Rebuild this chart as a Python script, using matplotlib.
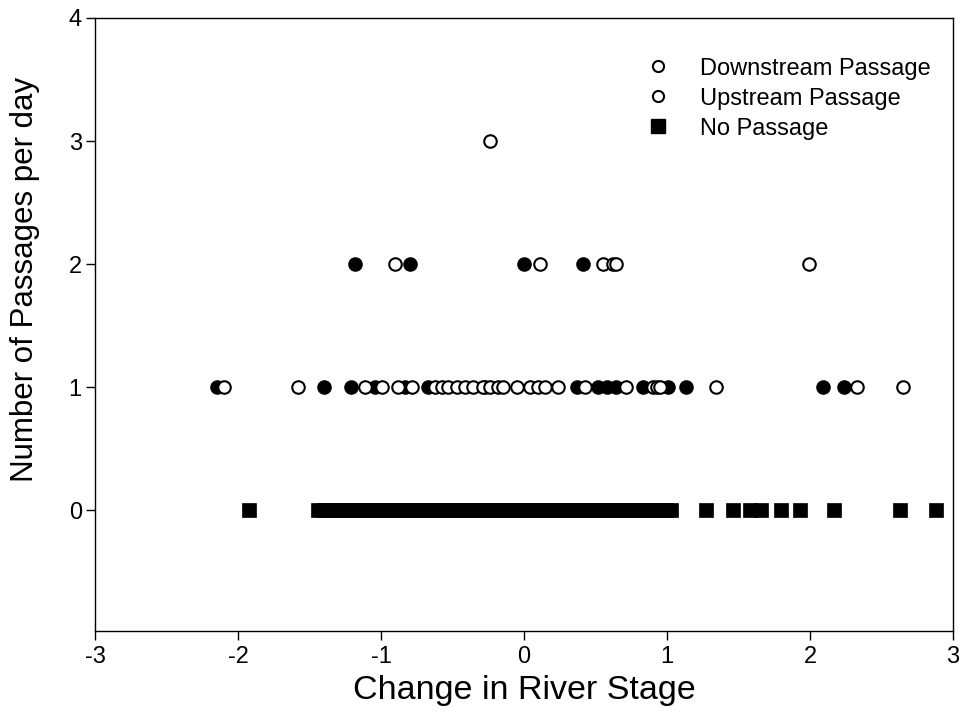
import numpy as np
import matplotlib
matplotlib.use("Agg")
import matplotlib.pyplot as plt
from matplotlib.lines import Line2D

plt.rcParams['font.family'] = ['Liberation Sans', 'DejaVu Sans']

# ---------------------------------------------------------------
# data (change in river stage, passages per day)
# ---------------------------------------------------------------

# filled circles
down_x = [-2.15, -1.40, -1.21, -1.04, -0.83, -0.67, -0.27, 0.37, 0.52, 0.58, 0.64,
          0.83, 1.01, 1.13, 2.09, 2.24,
          -1.18, -0.80, 0.00, 0.41]
down_y = [1, 1, 1, 1, 1, 1, 1, 1, 1, 1, 1,
          1, 1, 1, 1, 1,
          2, 2, 2, 2]

# open circles
up_x = [-2.10, -1.58, -1.11, -0.99, -0.88, -0.78, -0.62, -0.57, -0.53, -0.47, -0.41,
        -0.36, -0.29, -0.24, -0.18, -0.15, -0.05, 0.04, 0.10, 0.15, 0.24, 0.43,
        0.71, 0.90, 0.93, 0.95, 1.34, 2.33, 2.65,
        -0.90, 0.11, 0.55, 0.62, 0.64, 1.99,
        -0.24]
up_y = [1] * 29 + [2] * 6 + [3]

# squares (no passage)
none_x = [-1.92, -1.44, -1.40, -1.35, -1.31, -1.26, -1.22, -1.17, -1.13, -1.08, -1.04,
          -0.99, -0.95, -0.90, -0.86, -0.81, -0.77, -0.72, -0.68, -0.63, -0.59,
          -0.54, -0.50, -0.45, -0.41, -0.36, -0.32, -0.27, -0.23, -0.18, -0.14,
          -0.09, -0.05, 0.00, 0.04, 0.09, 0.13, 0.18, 0.22, 0.27, 0.31, 0.36,
          0.40, 0.45, 0.49, 0.54, 0.58, 0.63, 0.67, 0.72, 0.76, 0.81, 0.85,
          0.90, 0.94, 0.99, 1.03, 1.27, 1.46, 1.58, 1.66, 1.80, 1.93, 2.17,
          2.63, 2.88]
none_y = [0] * len(none_x)

legend_labels = ["Downstream Passage", "Upstream Passage", "No Passage"]

# ---------------------------------------------------------------

fig = plt.figure(figsize=(9.68, 7.26), dpi=100)
ax = fig.add_axes([95 / 968, 1 - 631 / 726, (953 - 95) / 968, (631 - 18) / 726])

ax.plot(none_x, none_y, ls='none', marker='s', ms=10.5, mfc='black', mec='black', mew=0.5)
ax.plot(down_x, down_y, ls='none', marker='o', ms=9, mfc='black', mec='black', mew=1.5)
ax.plot(up_x, up_y, ls='none', marker='o', ms=9, mfc='white', mec='black', mew=1.5)

ax.set_xlim(-3, 3)
ax.set_ylim(-0.98, 4)
ax.set_xticks([-3, -2, -1, 0, 1, 2, 3])
ax.set_yticks([0, 1, 2, 3, 4])
ax.set_xticklabels(['-3', '-2', '-1', '0', '1', '2', '3'])
ax.tick_params(axis='both', direction='out', length=6.5, width=1, labelsize=17)
ax.tick_params(axis='y', pad=3)
ax.tick_params(axis='x', pad=4.5)
for s in ax.spines.values():
    s.set_linewidth(1)

ax.set_xlabel("Change in River Stage", fontsize=24.5, labelpad=5)
ax.set_ylabel("Number of Passages per day", fontsize=22.5)
# label sits a bit above the axes centre in the original
ax.yaxis.set_label_coords(-0.064, 0.573)

handles = [
    Line2D([], [], ls='none', marker='o', ms=8, mfc='white', mec='black', mew=1.5),
    Line2D([], [], ls='none', marker='o', ms=8, mfc='white', mec='black', mew=1.5),
    Line2D([], [], ls='none', marker='s', ms=10, mfc='black', mec='black'),
]
ax.legend(handles, legend_labels, loc='upper left', bbox_to_anchor=(0.6175, 0.970),
          frameon=False, fontsize=17, handletextpad=1.3, labelspacing=0.34,
          handlelength=1.0)

plt.savefig("out.png", dpi=100)
